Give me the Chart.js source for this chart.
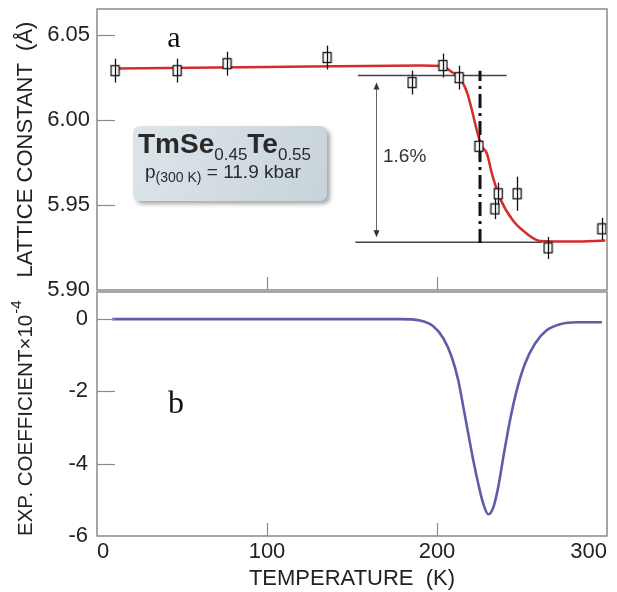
<!DOCTYPE html>
<html>
<head>
<meta charset="utf-8">
<script src="https://cdn.jsdelivr.net/npm/chart.js@4.4.0/dist/chart.umd.min.js"></script>
<style>
  html, body { margin: 0; padding: 0; background: #fff; }
  #wrap { position: relative; width: 617px; height: 592px; overflow: hidden; }
  #latticeChart { position: absolute; left: 0; top: 0; }
  #expChart { position: absolute; left: 0; top: 290px; }
</style>
</head>
<body>
<div id="wrap">
  <canvas id="latticeChart" width="617" height="297"></canvas>
  <canvas id="expChart" width="617" height="302"></canvas>
</div>
<script>
// Tick labels
const tempTicks = [0, 100, 200, 300];
const latticeTicks = [5.90, 5.95, 6.00, 6.05];
const expTicks = [-6, -4, -2, 0];

// Panel a: measured lattice constant (K, Å) with error bars
const measTemp = [10.6, 47.1, 76.5, 135.3, 185.3, 203.5, 213, 224.7, 236, 234.1, 247.1, 265.3, 297];
const measLattice = [6.0288, 6.0288, 6.0329, 6.0365, 6.0218, 6.0318, 6.0247, 5.9844, 5.9565, 5.9476, 5.9565, 5.9247, 5.9359];
const measErr = [0.007, 0.007, 0.007, 0.007, 0.007, 0.007, 0.007, 0.007, 0.0065, 0.006, 0.010, 0.0065, 0.0065];

// Panel a: fitted curve (red)
const fitTemp = [12, 100, 190, 203, 208, 213, 216, 218, 220.6, 223.5, 226, 229.4, 232.4, 237, 244.8, 252.9, 260.6, 280, 299];
const fitLattice = [6.030, 6.031, 6.0318, 6.0315, 6.0285, 6.0245, 6.0200, 6.0150, 6.0053, 5.9935, 5.9850, 5.9800, 5.9680, 5.9540, 5.9406, 5.9330, 5.9288, 5.9285, 5.9290];

// Panel a: guide levels
const levelHigh = 6.026, levelHighFrom = 153.5, levelHighTo = 241;
const levelLow = 5.928, levelLowFrom = 152, levelLowTo = 262;
const arrowTemp = 164;
const transitionTemp = 225.3, transitionTop = 6.0288, transitionBottom = 5.9276;

// Panel b: expansion coefficient (x10^-4)
const expTemp = [9, 60, 120, 178, 190, 197.8, 203.7, 208.6, 212.5, 215.5, 218.4, 221.4, 224.3, 227.3, 230.2, 233.1, 236, 239, 242.9, 246.9, 251.8, 257.6, 264.5, 272.4, 282.2, 297];
const expCoef = [0, 0, 0, 0, -0.04, -0.2, -0.53, -1.04, -1.69, -2.43, -3.17, -3.92, -4.56, -5.12, -5.40, -5.21, -4.65, -3.82, -2.81, -1.97, -1.23, -0.68, -0.31, -0.14, -0.085, -0.085];

const sans = "'Liberation Sans', Arial, sans-serif";
Chart.defaults.font.family = sans;
Chart.defaults.color = '#222';

const expTitle = 'EXP. COEFFICIENT×10';
const expTitlePad = '    '; // room for the exponent, keeps the title centred

const toPoints = (xs, ys) => xs.map((x, i) => ({ x: x, y: ys[i] }));
const setTicks = list => scale => { scale.ticks = list.map(v => ({ value: v })); };
// fixed axis sizes, no label overflow padding
const fixWidth = w => s => { s.width = w; s.paddingTop = 0; s.paddingBottom = 0; };
const fixHeight = h => s => { s.height = h; s.paddingLeft = 0; s.paddingRight = 0; };

// Frame round plot area and inward tick marks
const framePlugin = {
    id: 'frame',
    afterDraw(chart) {
        const { ctx, chartArea: a, scales } = chart;
        ctx.save();
        ctx.strokeStyle = '#8a8a8a';
        ctx.lineWidth = 1.2;
        scales.y.ticks.forEach(t => {
            if (t.value <= scales.y.min || t.value >= scales.y.max) return;
            const y = Math.round(scales.y.getPixelForValue(t.value)) + 0.5;
            ctx.beginPath();
            ctx.moveTo(a.left, y);
            ctx.lineTo(a.left + 18, y);
            ctx.stroke();
        });
        scales.x.ticks.forEach(t => {
            if (t.value <= scales.x.min || t.value >= scales.x.max) return;
            const x = Math.round(scales.x.getPixelForValue(t.value)) + 0.5;
            ctx.beginPath();
            ctx.moveTo(x, a.bottom);
            ctx.lineTo(x, a.bottom - 13);
            ctx.stroke();
        });
        ctx.lineWidth = 1.5;
        ctx.strokeRect(a.left, a.top, a.right - a.left, a.bottom - a.top);
        ctx.restore();
    }
};

// Error bars for the measured points
const errorBarPlugin = {
    id: 'errorBars',
    afterDatasetsDraw(chart) {
        const { ctx, scales: { x, y } } = chart;
        ctx.save();
        ctx.strokeStyle = '#111';
        ctx.lineWidth = 1.3;
        measTemp.forEach((t, i) => {
            const px = Math.round(x.getPixelForValue(t)) + 0.5;
            ctx.beginPath();
            ctx.moveTo(px, y.getPixelForValue(measLattice[i] + measErr[i]));
            ctx.lineTo(px, y.getPixelForValue(measLattice[i] - measErr[i]));
            ctx.stroke();
        });
        ctx.restore();
    }
};

function drawRuns(ctx, x, y, runs) {
    runs.forEach(r => {
        ctx.font = r.font;
        ctx.fillText(r.text, x, y + (r.dy || 0));
        x += ctx.measureText(r.text).width;
    });
}

// Guide lines, arrow, transition line, label box
const latticeNotes = {
    id: 'latticeNotes',
    beforeDatasetsDraw(chart) {
        const { ctx, scales: { x, y } } = chart;
        ctx.save();
        ctx.strokeStyle = '#444';
        ctx.lineWidth = 1.5;
        ctx.beginPath();
        ctx.moveTo(x.getPixelForValue(levelHighFrom), y.getPixelForValue(levelHigh));
        ctx.lineTo(x.getPixelForValue(levelHighTo), y.getPixelForValue(levelHigh));
        ctx.moveTo(x.getPixelForValue(levelLowFrom), y.getPixelForValue(levelLow));
        ctx.lineTo(x.getPixelForValue(levelLowTo), y.getPixelForValue(levelLow));
        ctx.stroke();

        // double arrow
        const ax = Math.round(x.getPixelForValue(arrowTemp)) + 0.5;
        const yTop = y.getPixelForValue(levelHigh) + 7;
        const yBot = y.getPixelForValue(levelLow) - 5;
        ctx.strokeStyle = '#666';
        ctx.fillStyle = '#333';
        ctx.lineWidth = 1;
        ctx.beginPath();
        ctx.moveTo(ax, yTop + 4);
        ctx.lineTo(ax, yBot - 4);
        ctx.stroke();
        ctx.beginPath();
        ctx.moveTo(ax, yTop); ctx.lineTo(ax - 3, yTop + 7); ctx.lineTo(ax + 3, yTop + 7); ctx.closePath();
        ctx.moveTo(ax, yBot); ctx.lineTo(ax - 3, yBot - 7); ctx.lineTo(ax + 3, yBot - 7); ctx.closePath();
        ctx.fill();

        // dash-dot transition line
        const tx = x.getPixelForValue(transitionTemp);
        ctx.strokeStyle = '#111';
        ctx.lineWidth = 3;
        ctx.setLineDash([14, 5, 3, 5]);
        ctx.beginPath();
        ctx.moveTo(tx, y.getPixelForValue(transitionBottom));
        ctx.lineTo(tx, y.getPixelForValue(transitionTop));
        ctx.stroke();
        ctx.restore();
    },
    afterDraw(chart) {
        const { ctx, chartArea: a } = chart;
        ctx.save();
        // label box
        const bx = a.left + 36, by = a.top + 117, bw = 194, bh = 75;
        ctx.shadowColor = 'rgba(0,0,0,0.35)';
        ctx.shadowBlur = 4;
        ctx.shadowOffsetX = 3;
        ctx.shadowOffsetY = 3;
        const grad = ctx.createLinearGradient(bx, by, bx + bw, by + bh);
        grad.addColorStop(0, '#dde5ea');
        grad.addColorStop(1, '#c7d3da');
        ctx.fillStyle = grad;
        ctx.beginPath();
        ctx.roundRect(bx, by, bw, bh, 7);
        ctx.fill();
        ctx.shadowColor = 'transparent';
        ctx.fillStyle = '#2a2a2a';
        ctx.textBaseline = 'alphabetic';
        ctx.textAlign = 'left';
        drawRuns(ctx, bx + 5, by + 27, [
            { text: 'TmSe', font: 'bold 28px ' + sans },
            { text: '0.45', font: '17px ' + sans, dy: 7 },
            { text: 'Te', font: 'bold 28px ' + sans },
            { text: '0.55', font: '17px ' + sans, dy: 7 }
        ]);
        drawRuns(ctx, bx + 12, by + 52, [
            { text: 'p', font: '19px ' + sans },
            { text: '(300 K)', font: '14px ' + sans, dy: 4 },
            { text: ' = 11.9 kbar', font: '19px ' + sans }
        ]);

        ctx.fillStyle = '#333';
        ctx.font = '19px ' + sans;
        ctx.fillText('1.6%', a.left + 286, a.top + 153);

        ctx.fillStyle = '#111';
        ctx.font = "30px 'Liberation Serif', 'Times New Roman', serif";
        ctx.textAlign = 'center';
        ctx.fillText('a', a.left + 77, a.top + 38);
        ctx.restore();
    }
};

const expNotes = {
    id: 'expNotes',
    afterDraw(chart) {
        const { ctx, chartArea: a } = chart;
        ctx.save();
        ctx.fillStyle = '#111';
        ctx.font = "32px 'Liberation Serif', 'Times New Roman', serif";
        ctx.textAlign = 'center';
        ctx.fillText('b', a.left + 79, a.top + 121);

        // superscript exponent after the axis title
        const ys = chart.scales.y;
        const title = ys.options.title;
        ctx.font = title.font.size + 'px ' + sans;
        const wFull = ctx.measureText(title.text).width;
        const wText = ctx.measureText(expTitle).width;
        const cx = ys.left + title.font.size * 0.6 + title.padding.top;
        const cy = (ys.top + ys.bottom) / 2;
        ctx.translate(cx, cy + wFull / 2 - wText);
        ctx.rotate(-Math.PI / 2);
        ctx.fillStyle = '#222';
        ctx.font = '15px ' + sans;
        ctx.textAlign = 'left';
        ctx.textBaseline = 'middle';
        ctx.fillText('-4', 1, -9);
        ctx.restore();
    }
};

function markerImage() {
    const c = document.createElement('canvas');
    c.width = 11;
    c.height = 13;
    const g = c.getContext('2d');
    g.fillStyle = '#fff';
    g.fillRect(1, 1, 9, 11);
    g.strokeStyle = '#111';
    g.lineWidth = 1.3;
    g.strokeRect(1.5, 1.5, 8, 10);
    return c;
}

// Panel a
new Chart(document.getElementById('latticeChart'), {
    type: 'scatter',
    data: {
        datasets: [{
            label: 'measured',
            data: toPoints(measTemp, measLattice),
            pointStyle: markerImage(),
            pointRadius: 6
        }, {
            type: 'line',
            label: 'fit',
            data: toPoints(fitTemp, fitLattice),
            borderColor: '#d42b2b',
            borderWidth: 2.5,
            pointRadius: 0,
            cubicInterpolationMode: 'monotone',
            showLine: true
        }]
    },
    options: {
        responsive: false,
        animation: false,
        events: [],
        layout: { padding: { top: 9, right: 10, left: 0, bottom: 0 } },
        plugins: { legend: { display: false }, tooltip: { enabled: false } },
        scales: {
            x: {
                type: 'linear', min: 0, max: 300,
                afterBuildTicks: setTicks(tempTicks),
                ticks: { display: false },
                grid: { display: false, drawTicks: false },
                border: { display: false },
                afterFit: fixHeight(2)
            },
            y: {
                min: 5.90, max: 6.065,
                afterBuildTicks: setTicks(latticeTicks),
                ticks: { padding: 7, font: { size: 22 }, color: '#222', callback: v => v.toFixed(2) },
                grid: { display: false, drawTicks: false },
                border: { display: false },
                title: { display: true, text: 'LATTICE CONSTANT  (Å)', font: { size: 22 }, color: '#222', padding: { top: 13, bottom: 0 } },
                afterFit: fixWidth(97)
            }
        }
    },
    plugins: [latticeNotes, errorBarPlugin, framePlugin]
});

// Panel b
new Chart(document.getElementById('expChart'), {
    type: 'line',
    data: {
        datasets: [{
            label: 'expansion',
            data: toPoints(expTemp, expCoef),
            borderColor: '#5e5ea8',
            borderWidth: 2.6,
            pointRadius: 0,
            cubicInterpolationMode: 'monotone'
        }]
    },
    options: {
        responsive: false,
        animation: false,
        events: [],
        layout: { padding: { top: 2, right: 10, left: 0, bottom: 0 } },
        plugins: { legend: { display: false }, tooltip: { enabled: false } },
        scales: {
            x: {
                type: 'linear', min: 0, max: 300,
                afterBuildTicks: setTicks(tempTicks),
                ticks: { align: 'inner', padding: 3, maxRotation: 0, autoSkip: false, font: { size: 22 }, color: '#222' },
                grid: { display: false, drawTicks: false },
                border: { display: false },
                title: { display: true, text: 'TEMPERATURE  (K)', font: { size: 22 }, color: '#222', padding: { top: 0, bottom: 0 } },
                afterFit: fixHeight(56)
            },
            y: {
                min: -6, max: 0.75,
                afterBuildTicks: setTicks(expTicks),
                ticks: { padding: 9, font: { size: 22 }, color: '#222', callback: v => String(v) },
                grid: { display: false, drawTicks: false },
                border: { display: false },
                title: { display: true, text: expTitle + expTitlePad, font: { size: 20.5 }, color: '#222', padding: { top: 14, bottom: 0 } },
                afterFit: fixWidth(97)
            }
        }
    },
    plugins: [expNotes, framePlugin]
});
</script>
</body>
</html>
